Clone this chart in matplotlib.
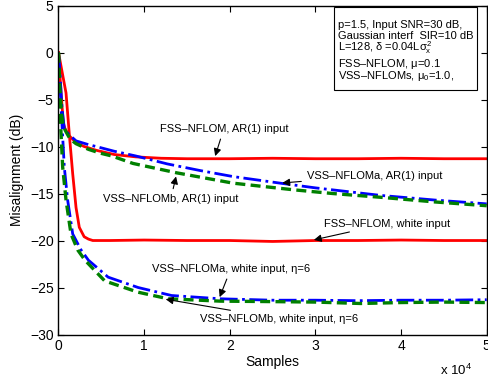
import matplotlib
matplotlib.use("Agg")
import matplotlib.pyplot as plt
from matplotlib.patches import Rectangle

plt.rcParams['font.family'] = ['Liberation Sans', 'DejaVu Sans']
plt.rcParams['mathtext.fontset'] = 'custom'
plt.rcParams['mathtext.rm'] = 'Liberation Sans'
plt.rcParams['mathtext.it'] = 'Liberation Sans'

# FSS-NFLOM, AR(1) input
fss_ar_x = [0, 300, 560, 760, 1200, 2050, 3000, 4400, 6500, 9000, 12000, 15000, 20000, 25000, 30000, 35000, 40000, 45000, 50000]
fss_ar_y = [0, -4.3, -7.5, -8.1, -8.8, -9.6, -10.0, -10.4, -10.85, -11.1, -11.25, -11.3, -11.3, -11.25, -11.3, -11.3, -11.25, -11.3, -11.3]

# VSS-NFLOMa, AR(1) input
vssa_ar_x = [0, 180, 400, 680, 1200, 2050, 3500, 4400, 6500, 9000, 12700, 16500, 20400, 25900, 30000, 37600, 44000, 50000]
vssa_ar_y = [0, -2.3, -5.8, -8.1, -8.7, -9.4, -9.8, -10.0, -10.5, -11.0, -11.85, -12.55, -13.2, -13.9, -14.4, -15.2, -15.7, -16.1]

# VSS-NFLOMb, AR(1) input
vssb_ar_x = [0, 150, 350, 560, 800, 1350, 2050, 3500, 4850, 6200, 8700, 13800, 20400, 27400, 32000, 37600, 44000, 50000]
vssb_ar_y = [0, -3.5, -6.5, -7.8, -8.3, -9.2, -9.7, -10.3, -10.7, -11.0, -11.8, -12.8, -13.9, -14.6, -15.0, -15.4, -15.9, -16.3]

# FSS-NFLOM, white input
fss_w_x = [0, 880, 1260, 1660, 2050, 2430, 3000, 3500, 4000, 6000, 10000, 15000, 20000, 25000, 30000, 35000, 40000, 45000, 50000]
fss_w_y = [0, -4.3, -8.65, -12.9, -16.5, -18.6, -19.6, -19.85, -20.0, -20.0, -19.95, -20.0, -20.0, -20.1, -20.0, -20.0, -19.95, -20.0, -20.0]

# VSS-NFLOMa, white input
vssa_w_x = [0, 300, 680, 1070, 1660, 2630, 3500, 5800, 9300, 13200, 18900, 25000, 30000, 35000, 40000, 45000, 50000]
vssa_w_y = [0, -5.8, -12.2, -15.7, -19.3, -21.0, -22.1, -23.9, -25.0, -25.85, -26.2, -26.35, -26.35, -26.4, -26.35, -26.35, -26.3]

# VSS-NFLOMb, white input
vssb_w_x = [0, 150, 490, 880, 1460, 2240, 3100, 5400, 9300, 12800, 18900, 25000, 30000, 35300, 40000, 45000, 50000]
vssb_w_y = [0, -5.8, -12.2, -15.7, -19.3, -21.0, -22.1, -24.3, -25.5, -26.2, -26.45, -26.5, -26.55, -26.7, -26.6, -26.55, -26.6]

x_ticks = [0, 10000, 20000, 30000, 40000, 50000]
x_ticklabels = ['0', '1', '2', '3', '4', '5']
y_ticks = [-30, -25, -20, -15, -10, -5, 0, 5]

box_lines = ['p=1.5, Input SNR=30 dB,',
             'Gaussian interf  SIR=10 dB',
             r'L=128, $\delta$ =0.04L$\sigma_x^2$',
             'FSS\u2013NFLOM, $\\mu$=0.1',
             'VSS\u2013NFLOMs, $\\mu_0$=1.0,']

fig = plt.figure(figsize=(4.89, 3.83), dpi=100)
ax = fig.add_axes([0.1196, 0.1266, 0.8757, 0.859])

ax.plot(fss_ar_x, fss_ar_y, color='red', lw=2.0, ls='-')
ax.plot(fss_w_x, fss_w_y, color='red', lw=2.0, ls='-')
ax.plot(vssa_ar_x, vssa_ar_y, color='blue', lw=2.0, ls='-.')
ax.plot(vssa_w_x, vssa_w_y, color='blue', lw=2.0, ls='-.')
ax.plot(vssb_ar_x, vssb_ar_y, color='#008000', lw=2.4, ls=(0, (3, 1.6)))
ax.plot(vssb_w_x, vssb_w_y, color='#008000', lw=2.4, ls=(0, (3, 1.6)))

ax.set_xlim(0, 50000)
ax.set_ylim(-30, 5)
ax.set_xticks(x_ticks)
ax.set_xticklabels(x_ticklabels)
ax.set_yticks(y_ticks)
ax.tick_params(direction='in', top=True, right=True, labelsize=10, length=4, width=0.8)
for s in ax.spines.values():
    s.set_linewidth(1.0)
ax.set_xlabel('Samples', fontsize=10, labelpad=1)
ax.set_ylabel('Misalignment (dB)', fontsize=10, labelpad=4)
fig.text(0.899, 0.012, r'x 10$^4$', fontsize=9.5, ha='left', va='bottom')

fs = 8
arrow = dict(arrowstyle='-|>', color='black', lw=0.8, mutation_scale=11)

def ann(text, xy, xytext, ha='left'):
    ax.annotate(text, xy=xy, xytext=xytext, textcoords='data', fontsize=fs,
                ha=ha, va='center', arrowprops=arrow)

ann('FSS\u2013NFLOM, AR(1) input', (18200, -11.3), (11800, -8.1))
ann('VSS\u2013NFLOMa, AR(1) input', (25800, -13.9), (29000, -13.1))
ann('VSS\u2013NFLOMb, AR(1) input', (13800, -12.9), (5200, -15.6))
ann('FSS\u2013NFLOM, white input', (29500, -20.0), (31000, -18.2))
ann('VSS\u2013NFLOMa, white input, \u03b7=6', (18700, -26.3), (10900, -23.0))
ann('VSS\u2013NFLOMb, white input, \u03b7=6', (12200, -26.2), (16500, -28.3))

# annotation box (in axes fraction)
ax.add_patch(Rectangle((0.643, 0.743), 0.334, 0.253, transform=ax.transAxes,
                       fc='white', ec='black', lw=0.8, zorder=4))
line_px = [24.5, 36, 47.5, 63.5, 75.5]
for t, py in zip(box_lines, line_px):
    ax.text(0.653, 1 - (py - 5.5) / 329.0, t, transform=ax.transAxes, fontsize=8.0,
            va='center', ha='left', zorder=5)

fig.savefig('out.png', dpi=100)
